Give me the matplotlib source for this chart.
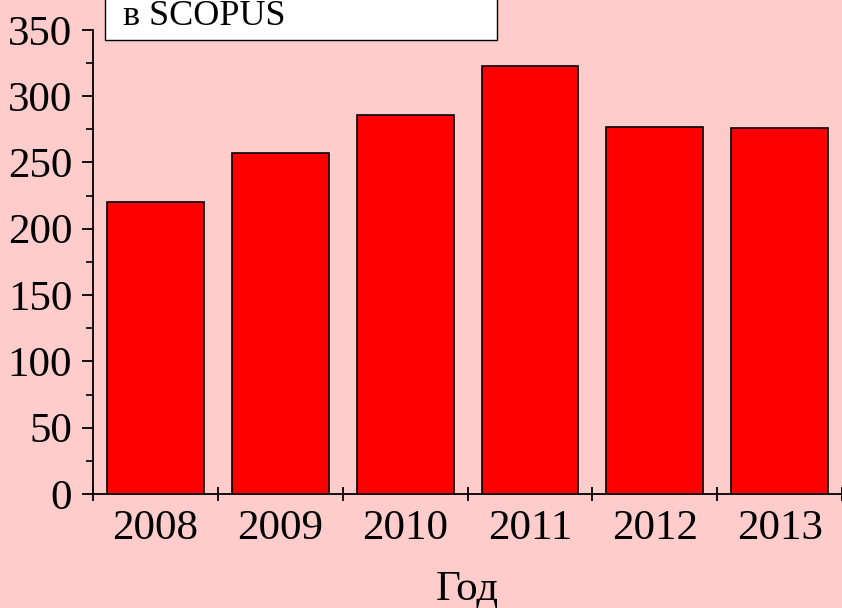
import matplotlib.pyplot as plt
from matplotlib.patches import Rectangle
from matplotlib.ticker import MultipleLocator, FixedLocator

years = ['2008', '2009', '2010', '2011', '2012', '2013']
counts = [220, 257, 286, 323, 277, 276]

plt.rcParams['font.family'] = ['Liberation Serif', 'DejaVu Serif']

bg = '#ffcccc'
fig = plt.figure(figsize=(8.42, 6.08), dpi=100, facecolor=bg)
ax = fig.add_axes([0.1105, 0.1875, 0.8895, 0.7635])
ax.set_facecolor(bg)

x = list(range(len(years)))
ax.bar(x, counts, width=0.776, color='#ff0000', edgecolor='black', linewidth=1.2, zorder=3)

ax.set_xlim(-0.5, len(years) - 0.5)
ax.set_ylim(0, 350)

for s in ['top', 'right']:
    ax.spines[s].set_visible(False)
for s in ['left', 'bottom']:
    ax.spines[s].set_linewidth(1.3)

# y axis: major every 50, minor every 25
ax.yaxis.set_major_locator(MultipleLocator(50))
ax.yaxis.set_minor_locator(MultipleLocator(25))
ax.tick_params(axis='y', which='major', direction='out', length=8, width=1.3, labelsize=31, pad=7)
ax.tick_params(axis='y', which='minor', direction='out', length=5, width=1.2)

# x axis: year labels at bar centres, crossing ticks between bars
ax.set_xticks(x)
ax.set_xticklabels(years)
ax.tick_params(axis='x', which='major', length=0, labelsize=31, pad=11)
bounds = [i - 0.5 for i in range(len(years) + 1)]
ax.xaxis.set_minor_locator(FixedLocator(bounds))
ax.tick_params(axis='x', which='minor', direction='inout', length=10, width=1.3)

ax.set_xlabel('Год', fontsize=31, labelpad=16)

# title box cut off at the top of the figure
fig.patches.append(Rectangle((105 / 842, 1 - 40 / 608), 392 / 842, 0.2,
                             transform=fig.transFigure, facecolor='white',
                             edgecolor='black', linewidth=1.0, clip_on=False))
fig.text(123 / 842, 1 - 25 / 608, 'в SCOPUS', fontsize=26, va='baseline', ha='left')

fig.savefig('out.png', dpi=100, facecolor=bg)
